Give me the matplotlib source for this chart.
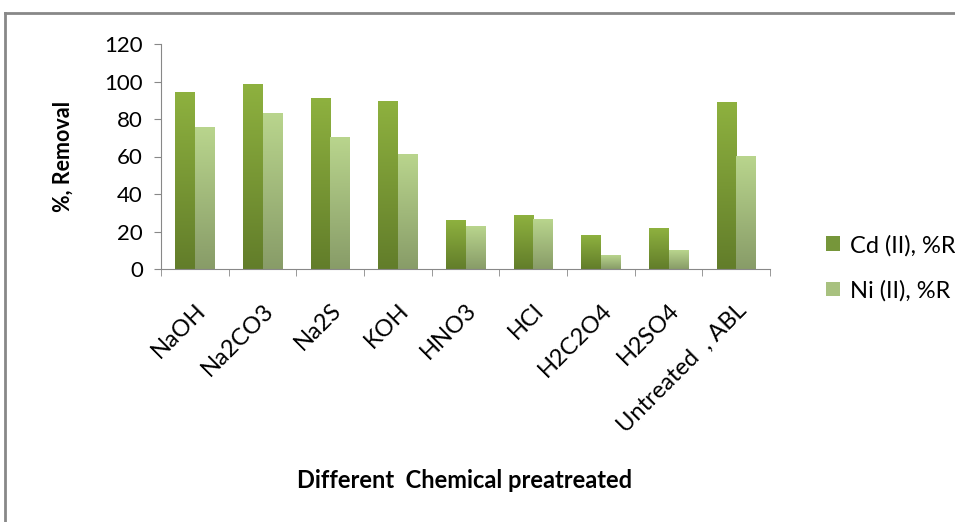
import numpy as np
import matplotlib.pyplot as plt
import matplotlib as mpl
from matplotlib.colors import LinearSegmentedColormap
from matplotlib.patches import Patch
from matplotlib.lines import Line2D

# data
categories = ["NaOH", "Na2CO3", "Na2S", "KOH", "HNO3", "HCl", "H2C2O4", "H2SO4", "Untreated  , ABL"]
cd_removal = [94.2, 98.5, 90.7, 89.4, 25.8, 28.4, 18.1, 21.7, 88.9]
ni_removal = [75.6, 83.2, 70.2, 61.3, 22.9, 26.5, 7.3, 10.1, 59.9]
series_labels = ["Cd (II), %R", "Ni (II), %R"]
yticks = [0, 20, 40, 60, 80, 100, 120]

mpl.rcParams['font.family'] = 'Lato'

fig = plt.figure(figsize=(9.55, 5.22), dpi=100)
ax = fig.add_axes([161/955, 1-269/522, (770-161)/955, (269-44)/522])

x = np.arange(len(categories))
w = 0.29
cd_bars = ax.bar(x - w/2, cd_removal, w, color='none', edgecolor='none')
ni_bars = ax.bar(x + w/2, ni_removal, w, color='none', edgecolor='none')

# vertical gradient fill for each bar
cmap_cd = LinearSegmentedColormap.from_list("cd", ["#627d2a", "#8eb13f"])
cmap_ni = LinearSegmentedColormap.from_list("ni", ["#889c68", "#b9d58d"])
grad = np.linspace(0, 1, 256).reshape(-1, 1)
for bars, cmap in [(cd_bars, cmap_cd), (ni_bars, cmap_ni)]:
    for p in bars:
        x0, y0 = p.get_x(), p.get_y()
        ax.imshow(grad, cmap=cmap, origin='lower', aspect='auto',
                  extent=[x0, x0 + p.get_width(), y0, y0 + p.get_height()], zorder=2)

ax.set_xlim(-0.5, len(categories) - 0.5)
ax.set_ylim(0, 120)
ax.set_yticks(yticks)
ax.set_xticks(np.arange(len(categories) + 1) - 0.5, minor=True)
ax.set_xticks(x)
ax.set_xticklabels(categories, rotation=45, ha='right', va='top', rotation_mode='anchor', fontsize=17)
ax.tick_params(axis='x', which='major', length=0, pad=22)
ax.tick_params(axis='x', which='minor', length=5, color='#888888')
ax.tick_params(axis='y', length=5, color='#888888', labelsize=16, pad=8)

for s in ['top', 'right']:
    ax.spines[s].set_visible(False)
for s in ['left', 'bottom']:
    ax.spines[s].set_color('#888888')

ax.set_ylabel("%, Removal", fontsize=15.5, fontweight='bold', labelpad=22)
fig.text(465/955, 1-481/522, "Different  Chemical preatreated", fontsize=17,
         fontweight='bold', ha='center', va='center')

handles = [Patch(facecolor='#76963a'), Patch(facecolor='#a8c17f')]
fig.legend(handles, series_labels, loc='center left', bbox_to_anchor=(805/955, 1-268/522),
           frameon=False, fontsize=17, handlelength=0.6, handleheight=0.6,
           handletextpad=0.4, labelspacing=1.0)

# outer chart frame
fig.add_artist(Line2D([5/955, 5/955], [0, 1-13/522], transform=fig.transFigure, color='#888888', lw=2))
fig.add_artist(Line2D([5/955, 1], [1-13/522, 1-13/522], transform=fig.transFigure, color='#888888', lw=2))

fig.savefig("out.png", dpi=100)
